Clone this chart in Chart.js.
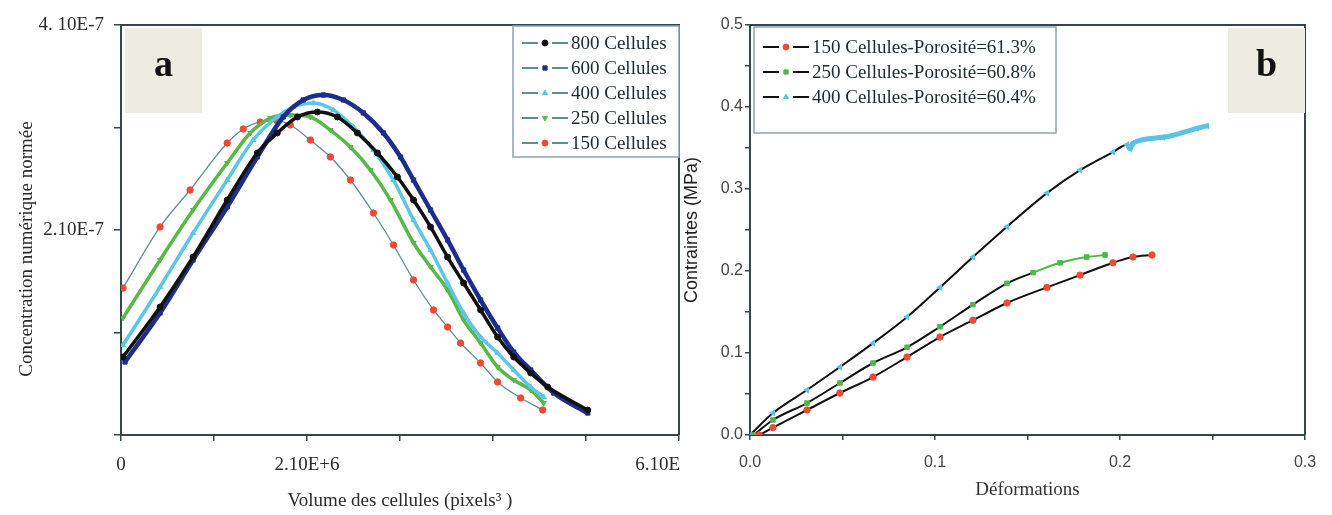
<!DOCTYPE html>
<html><head><meta charset="utf-8">
<script src="https://cdn.jsdelivr.net/npm/chart.js@4/dist/chart.umd.min.js"></script>
<style>
html,body{margin:0;padding:0;background:#fff;}
#wrap{position:relative;width:1332px;height:515px;overflow:hidden;}
#ca{position:absolute;left:0;top:0;}
#cb{position:absolute;left:680px;top:0;}
</style></head><body>
<div id="wrap"><canvas id="ca" width="684" height="515"></canvas><canvas id="cb" width="652" height="515"></canvas></div>
<script>
// ---------- Panel a data (x in 1e6 pixels^3, y in 1e-7) ----------
const labelsA = ['800 Cellules','600 Cellules','400 Cellules','250 Cellules','150 Cellules'];
const vol800 = [0.023,0.441,0.814,1.199,1.538,1.764,1.991,2.217,2.443,2.669,2.895,3.121,3.303,3.495,3.687,3.868,4.060,4.252,4.434,4.626,4.818,5.270];
const conc800 = [0.799,1.311,1.823,2.407,2.889,3.094,3.258,3.309,3.258,3.094,2.889,2.643,2.407,2.131,1.823,1.557,1.281,1.004,0.799,0.635,0.492,0.256];
const vol600 = [0.045,0.441,0.814,1.199,1.538,1.832,2.058,2.285,2.511,2.737,2.963,3.156,3.303,3.495,3.687,3.868,4.060,4.252,4.434,4.626,4.886,5.270];
const conc600 = [0.748,1.250,1.793,2.336,2.848,3.258,3.432,3.483,3.432,3.299,3.094,2.848,2.612,2.305,1.998,1.690,1.383,1.096,0.850,0.666,0.430,0.225];
const vol400 = [0.023,0.441,0.814,1.199,1.493,1.764,1.945,2.172,2.398,2.624,2.850,3.076,3.303,3.495,3.687,3.868,4.060,4.252,4.434,4.626,4.773];
const conc400 = [0.922,1.516,2.069,2.612,3.022,3.258,3.360,3.401,3.329,3.155,2.920,2.612,2.202,1.895,1.557,1.250,1.004,0.840,0.666,0.492,0.389];
const vol250 = [0.023,0.441,0.814,1.199,1.459,1.685,1.911,2.138,2.364,2.590,2.816,3.043,3.303,3.495,3.687,3.868,4.060,4.252,4.434,4.626,4.773];
const conc250 = [1.199,1.793,2.305,2.786,3.094,3.247,3.278,3.258,3.124,2.950,2.715,2.407,1.967,1.721,1.485,1.178,0.942,0.697,0.563,0.461,0.328];
const vol150 = [0.023,0.441,0.780,1.199,1.380,1.572,1.764,1.911,2.138,2.364,2.590,2.850,3.076,3.303,3.529,3.687,3.834,4.060,4.252,4.513,4.762];
const conc150 = [1.506,2.131,2.510,2.991,3.135,3.206,3.217,3.176,3.022,2.848,2.612,2.274,1.946,1.588,1.281,1.106,0.942,0.738,0.543,0.379,0.256];
const xTicksA = [0,1.05,2.1,3.15,4.2,5.25,6.3];
const xTickLabelsA = ['0','','2.10E+6','','','','6.10E         '];
const yTicksA = [0,1.05,2.1,3.15,4.2];
const yTickLabelsA = ['','','2.10E-7','','4. 10E-7'];

// ---------- Panel b data ----------
const labelsB = ['150 Cellules-Porosité=61.3%','250 Cellules-Porosité=60.8%','400 Cellules-Porosité=60.4%'];
const def150 = [0.005,0.0124,0.0308,0.0486,0.0665,0.0849,0.1027,0.1205,0.1389,0.1605,0.1784,0.1962,0.207,0.2173];
const sig150 = [0,0.009,0.0305,0.0512,0.0707,0.0951,0.1195,0.140,0.161,0.180,0.195,0.210,0.217,0.2195];
const def250 = [0.002,0.0124,0.0308,0.0486,0.0665,0.0849,0.1027,0.1205,0.1389,0.153,0.1676,0.182,0.1919];
const sig250 = [0,0.0183,0.039,0.0634,0.0878,0.107,0.132,0.159,0.185,0.198,0.210,0.217,0.2195];
const def400 = [0,0.0124,0.0308,0.0486,0.0665,0.0849,0.1027,0.1205,0.1389,0.1605,0.1784,0.1962,0.2038,0.2055,0.207,0.2232,0.2416,0.247];
const sig400 = [0,0.0268,0.0549,0.0829,0.112,0.144,0.180,0.217,0.254,0.295,0.323,0.345,0.354,0.349,0.356,0.363,0.374,0.377];
const xTicksB = [0,0.05,0.1,0.15,0.2,0.25,0.3];
const xTickLabelsB = ['0.0','','0.1','','0.2','','0.3'];
const yTicksB = [0,0.05,0.1,0.15,0.2,0.25,0.3,0.35,0.4,0.45,0.5];
const yTickLabelsB = ['0.0','','0.1','','0.2','','0.3','','0.4','','0.5'];

const pts = (xs, ys) => xs.map((x, i) => ({x, y: ys[i]}));
const AX = '#34474f';
const SERIF = '"Liberation Serif", "DejaVu Serif", serif';
const SANS = '"Liberation Sans", Arial, sans-serif';

const framePlugin = {
  id: 'frame',
  afterDatasetsDraw(chart, args, o) {
    const {ctx, chartArea: a} = chart;
    ctx.save();
    ctx.strokeStyle = AX; ctx.lineWidth = 2;
    ctx.beginPath(); ctx.moveTo(a.left, a.top); ctx.lineTo(a.right, a.top); ctx.lineTo(a.right, a.bottom); ctx.stroke();
    ctx.restore();
  }
};
const tagPlugin = {
  id: 'tag',
  afterDraw(chart, args, o) {
    const ctx = chart.ctx;
    ctx.save();
    ctx.fillStyle = '#eeebe1';
    ctx.fillRect(o.x, o.y, o.w, o.h);
    ctx.fillStyle = '#111';
    ctx.font = 'bold 38px ' + SERIF;
    ctx.textAlign = 'center'; ctx.textBaseline = 'middle';
    ctx.fillText(o.text, o.x + o.w / 2, o.y + o.h / 2 - 4);
    ctx.restore();
  }
};
const innerLegend = {
  id: 'innerLegend',
  afterDraw(chart, args, o) {
    const ctx = chart.ctx;
    ctx.save();
    ctx.fillStyle = '#fff';
    ctx.fillRect(o.x, o.y, o.w, o.h);
    ctx.strokeStyle = '#8fa3b3'; ctx.lineWidth = 1.5;
    ctx.strokeRect(o.x, o.y, o.w, o.h);
    chart.data.datasets.forEach((ds, i) => {
      const row = o.order[i];
      const cy = o.y + o.first + row * o.rowH;
      const x0 = o.x + o.pad;
      ctx.strokeStyle = o.lineColor || ds.borderColor; ctx.lineWidth = 2;
      ctx.beginPath();
      ctx.moveTo(x0, cy); ctx.lineTo(x0 + 16, cy);
      ctx.moveTo(x0 + 30, cy); ctx.lineTo(x0 + 46, cy);
      ctx.stroke();
      ctx.fillStyle = ds.pointBackgroundColor; ctx.strokeStyle = ds.pointBackgroundColor; ctx.lineWidth = 1;
      Chart.helpers.drawPoint(ctx, {pointStyle: ds.pointStyle, radius: 3, rotation: ds.legendRotation || 0, borderWidth: 1}, x0 + 23, cy);
      ctx.fillStyle = '#1b2a33';
      ctx.font = o.font;
      ctx.textAlign = 'left'; ctx.textBaseline = 'middle';
      ctx.fillText(ds.label, x0 + 49, cy + 1);
    });
    ctx.restore();
  }
};

function axisCommon(ticksArr, labelsArr, font, color, tickLen) {
  return {
    type: 'linear',
    min: ticksArr[0], max: ticksArr[ticksArr.length - 1],
    afterBuildTicks: s => { s.ticks = ticksArr.map(v => ({value: v})); },
    ticks: {autoSkip: false, maxRotation: 0, font: font, color: color,
      callback: (v, i) => labelsArr[i]},
    grid: {drawOnChartArea: false, drawTicks: true, tickLength: tickLen, color: AX, lineWidth: 1.5},
    border: {color: AX, width: 2}
  };
}

// ---------- Chart a ----------
const colA = ['#111111', '#1c2d8a', '#5cc6e6', '#58b848', '#f04a35'];
const styleA = ['circle', 'rect', 'triangle', 'triangle', 'circle'];
const rotA = [0, 0, 0, 180, 0];
const dataA = [pts(vol800, conc800), pts(vol600, conc600), pts(vol400, conc400), pts(vol250, conc250), pts(vol150, conc150)];
const widthA = [3.5, 4.5, 3.5, 3.5, 1.3];
const xA = axisCommon(xTicksA, xTickLabelsA, {family: SERIF, size: 19}, '#2a2a2a', 6);
xA.ticks.padding = 13;
xA.title = {display: true, text: 'Volume des cellules (pixels³ )', font: {family: SERIF, size: 19}, color: '#2a2a2a', padding: {top: 0, bottom: 3}};
xA.afterFit = s => { s.height = 80; s.paddingLeft = 0; s.paddingRight = 0; };
const yA = axisCommon(yTicksA, yTickLabelsA, {family: SERIF, size: 19}, '#2a2a2a', 7);
yA.ticks.padding = 10;
yA.title = {display: true, text: 'Concentration numérique normée        ', font: {family: SERIF, size: 19}, color: '#2a2a2a', padding: {top: 16, bottom: 0}};
yA.afterFit = s => { s.width = 121; };

new Chart(document.getElementById('ca'), {
  type: 'scatter',
  data: {
    datasets: labelsA.map((lab, i) => ({
      label: lab, data: dataA[i], showLine: true, tension: 0.4, cubicInterpolationMode: 'monotone',
      borderColor: i === 4 ? '#5e8e94' : colA[i], borderWidth: widthA[i],
      pointStyle: styleA[i], pointRotation: rotA[i], legendRotation: rotA[i],
      pointRadius: i === 4 ? 3.2 : 3, pointBackgroundColor: colA[i], pointBorderColor: colA[i], pointBorderWidth: 1
    }))
  },
  options: {
    responsive: false, animation: false, events: [],
    layout: {padding: {top: 25, right: 0, left: 0, bottom: 0}},
    scales: {x: xA, y: yA},
    plugins: {
      legend: {display: false}, tooltip: {enabled: false},
      tag: {x: 125, y: 28, w: 77, h: 85, text: 'a'},
      innerLegend: {x: 513, y: 26, w: 166, h: 131, first: 17, rowH: 25, pad: 9, order: [0, 1, 2, 3, 4],
        lineColor: '#5e8e94', font: '19px ' + SERIF}
    }
  },
  plugins: [framePlugin, tagPlugin, innerLegend]
});

// ---------- Chart b ----------
const colB = ['#f04a35', '#4cb848', '#5bc4e6'];
const styleB = ['circle', 'rect', 'triangle'];
const rotB = [0, 0, 270];
const dataB = [pts(def150, sig150), pts(def250, sig250), pts(def400, sig400)];
const blackUntil = [0.208, 0.14, 0.2];
const xB = axisCommon(xTicksB, xTickLabelsB, {family: SANS, size: 16}, '#444', 5);
xB.ticks.padding = 13;
xB.title = {display: true, text: 'Déformations', font: {family: SERIF, size: 19}, color: '#333', padding: {top: 0, bottom: 14}};
xB.afterFit = s => { s.height = 80; s.paddingLeft = 0; s.paddingRight = 0; };
const yB = axisCommon(yTicksB, yTickLabelsB, {family: SANS, size: 16}, '#444', 5);
yB.ticks.padding = 2;
yB.title = {display: true, text: 'Contraintes (MPa)', font: {family: SANS, size: 18}, color: '#222', padding: {top: 1, bottom: 0}};
yB.afterFit = s => { s.width = 70; };

new Chart(document.getElementById('cb'), {
  type: 'scatter',
  data: {
    datasets: labelsB.map((lab, i) => ({
      label: lab, data: dataB[i], showLine: true, tension: 0.3, cubicInterpolationMode: 'monotone',
      borderColor: '#111', borderWidth: 2,
      segment: {
        borderColor: c => (c.p0.parsed.x >= blackUntil[i] ? colB[i] : '#111'),
        borderWidth: c => (c.p0.parsed.x >= blackUntil[i] ? (i === 2 ? 5 : 2) : 2)
      },
      pointStyle: styleB[i], pointRotation: rotB[i], legendRotation: 0,
      pointRadius: 3.2, pointBackgroundColor: colB[i], pointBorderColor: colB[i], pointBorderWidth: 1
    }))
  },
  options: {
    responsive: false, animation: false, events: [],
    layout: {padding: {top: 25, right: 27, left: 0, bottom: 0}},
    scales: {x: xB, y: yB},
    plugins: {
      legend: {display: false}, tooltip: {enabled: false},
      tag: {x: 548, y: 28, w: 77, h: 85, text: 'b'},
      innerLegend: {x: 74, y: 27, w: 302, h: 106, first: 20, rowH: 25, pad: 9, order: [0, 1, 2],
        lineColor: '#111', font: '19px ' + SERIF}
    }
  },
  plugins: [framePlugin, tagPlugin, innerLegend]
});
</script>
</body></html>
